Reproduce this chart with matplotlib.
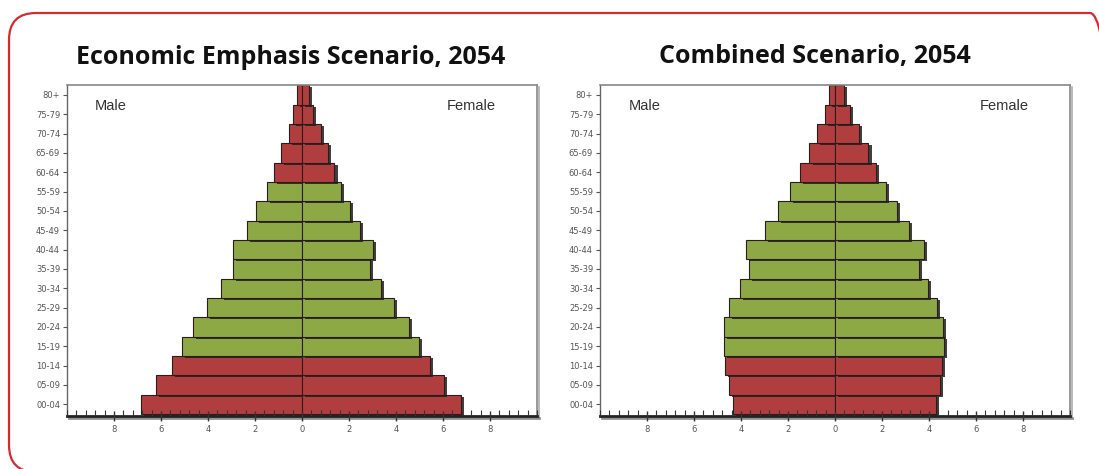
import numpy as np
import matplotlib
matplotlib.use("Agg")
import matplotlib.pyplot as plt
import matplotlib.patheffects as pe
from matplotlib.patches import FancyBboxPatch
from matplotlib.ticker import FixedLocator, MultipleLocator

# === DATA ===
age_groups = ["00-04", "05-09", "10-14", "15-19", "20-24", "25-29", "30-34", "35-39",
              "40-44", "45-49", "50-54", "55-59", "60-64", "65-69", "70-74", "75-79", "80+"]

# percent of population (bottom to top)
econ_male = [6.85, 6.2, 5.55, 5.1, 4.65, 4.05, 3.45, 2.95, 2.95, 2.35, 1.95, 1.5, 1.2, 0.9, 0.57, 0.37, 0.21]
econ_female = [6.75, 6.05, 5.45, 4.98, 4.55, 3.9, 3.35, 2.9, 3.0, 2.45, 2.05, 1.65, 1.38, 1.1, 0.8, 0.48, 0.28]

comb_male = [4.35, 4.53, 4.67, 4.74, 4.74, 4.53, 4.06, 3.67, 3.78, 2.97, 2.44, 1.91, 1.49, 1.09, 0.78, 0.42, 0.24]
comb_female = [4.3, 4.45, 4.55, 4.65, 4.6, 4.35, 3.95, 3.55, 3.8, 3.15, 2.65, 2.15, 1.75, 1.42, 1.0, 0.62, 0.36]

titles = ["Economic Emphasis Scenario, 2054", "Combined Scenario, 2054"]
x_ticks = [-8, -6, -4, -2, 0, 2, 4, 6, 8]

RED = "#b13e3e"
GREEN = "#8da946"


def bar_colors(groups):
    # working-age groups (15-59) are green, the rest red
    return [GREEN if 3 <= i <= 11 else RED for i in range(len(groups))]


def draw_pyramid(ax, male, female):
    y = np.arange(len(age_groups))
    cols = bar_colors(age_groups)
    shadow = [pe.SimplePatchShadow(offset=(2.2, -1.5), shadow_rgbFace="#1e1e1e", alpha=0.85), pe.Normal()]

    bars_m = ax.barh(y, -np.array(male), height=1.0, color=cols, edgecolor="#2b1b1b", linewidth=0.8, zorder=2)
    bars_f = ax.barh(y, female, height=1.0, color=cols, edgecolor="#2b1b1b", linewidth=0.8, zorder=2)
    for b in list(bars_m) + list(bars_f):
        b.set_path_effects(shadow)
    ax.set_axisbelow(False)

    ax.set_xlim(-10, 10)
    ax.set_ylim(-0.58, 16.52)

    ax.set_yticks(y)
    ax.set_yticklabels(age_groups, fontsize=6, color="#555555", family="Liberation Sans Narrow")
    ax.tick_params(axis="y", direction="out", length=3, width=0.8, color="#555555", pad=2)

    ax.xaxis.set_major_locator(FixedLocator(x_ticks))
    ax.set_xticklabels([str(abs(t)) for t in x_ticks], fontsize=6, color="#555555")
    ax.xaxis.set_minor_locator(MultipleLocator(0.4))
    ax.tick_params(axis="x", which="major", direction="inout", length=7, width=1.0, color="#333333", pad=3)
    ax.tick_params(axis="x", which="minor", direction="in", length=4, width=0.8, color="#333333")

    for side in ["top", "right"]:
        ax.spines[side].set_color("#888888")
        ax.spines[side].set_linewidth(1.2)
    ax.spines["left"].set_color("#666666")
    ax.spines["left"].set_linewidth(1.0)
    ax.spines["bottom"].set_color("#222222")
    ax.spines["bottom"].set_linewidth(2.0)
    ax.spines["bottom"].set_path_effects([pe.SimpleLineShadow(offset=(1.5, -1.5), shadow_color="#777777", alpha=0.8), pe.Normal()])
    ax.spines["right"].set_path_effects([pe.SimpleLineShadow(offset=(1.5, -1.5), shadow_color="#999999", alpha=0.8), pe.Normal()])

    ax.text(-8.8, 15.45, "Male", fontsize=10.5, color="#333333", family="Liberation Sans", va="center", ha="left")
    ax.text(8.25, 15.45, "Female", fontsize=10.5, color="#333333", family="Liberation Sans", va="center", ha="right")


# === FIGURE ===
fig = plt.figure(figsize=(10.99, 4.69), dpi=100, facecolor="white")

ax1 = fig.add_axes([0.061, 0.114, 0.4277, 0.705])
ax2 = fig.add_axes([0.546, 0.114, 0.4277, 0.705])

draw_pyramid(ax1, econ_male, econ_female)
draw_pyramid(ax2, comb_male, comb_female)

fig.text(291 / 1099, 1 - 57 / 469, titles[0], fontsize=18, fontweight="bold", family="Open Sans",
         ha="center", va="center", color="#111111")
fig.text(815 / 1099, 1 - 57 / 469, titles[1], fontsize=18, fontweight="bold", family="Open Sans",
         ha="center", va="center", color="#111111")

# red rounded frame around the whole panel
frame = FancyBboxPatch((0.09, -0.03), 11.08, 4.59, boxstyle="round,pad=0,rounding_size=0.27",
                       transform=fig.dpi_scale_trans, fill=False, edgecolor="#d42a30", linewidth=1.6,
                       clip_on=False)
fig.patches.append(frame)

fig.savefig("out.png", dpi=100)
